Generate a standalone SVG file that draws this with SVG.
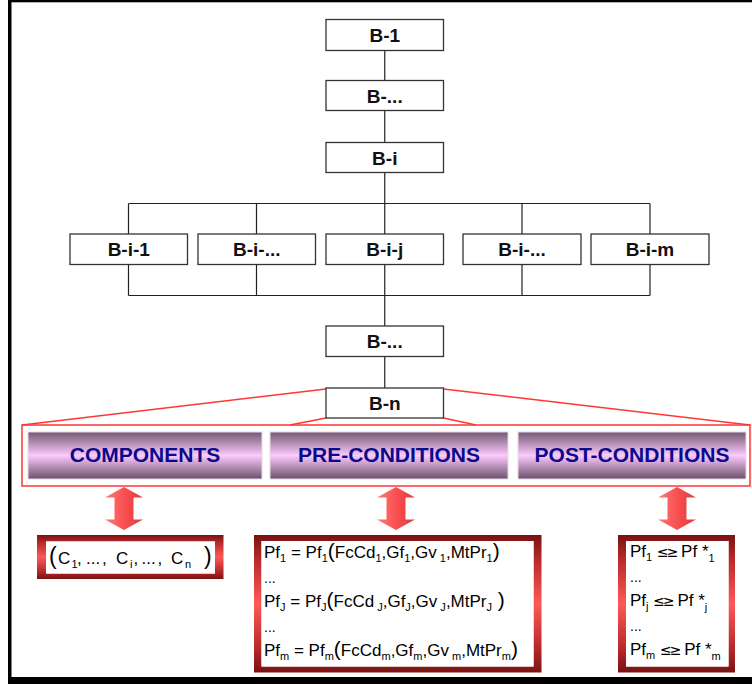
<svg xmlns="http://www.w3.org/2000/svg" width="752" height="684" viewBox="0 0 752 684">
<style>
.box{fill:#fff;stroke:#333;stroke-width:1.3}
.lbl{font-family:"Liberation Sans",Arial,sans-serif;font-weight:bold;font-size:19px;text-anchor:middle;fill:#111}
.conn{stroke:#222;stroke-width:1.2;fill:none}
.red{stroke:#ff3535;stroke-width:1.5;fill:none}
.bar{fill:url(#barg);stroke:#e4dce4;stroke-width:1}
.bt{font-family:"Liberation Sans",Arial,sans-serif;font-weight:bold;font-size:21px;fill:#0a0a8c;text-anchor:middle}
.eq{font-family:"Liberation Sans",Arial,sans-serif;font-size:17px;fill:#000}
.s{font-size:11px}
.pr{font-size:21px}
.sym{font-family:"DejaVu Sans",sans-serif;font-size:14px}
.dots{font-family:"Liberation Sans",Arial,sans-serif;font-size:14px;fill:#000}
.frame{fill:url(#frg);fill-rule:evenodd}
.arr{fill:url(#arg)}
</style>
<defs>
<linearGradient id="barg" x1="0" y1="0" x2="0" y2="1">
<stop offset="0" stop-color="#735873"/>
<stop offset="0.5" stop-color="#fccafc"/>
<stop offset="1" stop-color="#6c506c"/>
</linearGradient>
<linearGradient id="frg" x1="0" y1="0" x2="0" y2="1">
<stop offset="0" stop-color="#7a1212"/>
<stop offset="0.18" stop-color="#b82a2a"/>
<stop offset="0.5" stop-color="#ff5858"/>
<stop offset="0.82" stop-color="#b82a2a"/>
<stop offset="1" stop-color="#7a1212"/>
</linearGradient>
<linearGradient id="arg" x1="0" y1="0" x2="1" y2="0">
<stop offset="0" stop-color="#ff7a7a"/>
<stop offset="0.5" stop-color="#f85050"/>
<stop offset="1" stop-color="#e23a3a"/>
</linearGradient>
<path id="dbl" d="M0,487 L19,497.5 L9.5,497.5 L9.5,519.5 L19,519.5 L0,530 L-19,519.5 L-9.5,519.5 L-9.5,497.5 L-19,497.5 Z"/>
</defs>

<g id="border" fill="#000">
<rect x="8" y="0" width="3.5" height="684"/>
<rect x="8" y="0" width="744" height="2.3"/>
<rect x="8" y="677" width="744" height="7"/>
</g>

<g id="connectors">
<path class="conn" d="M384.75,50.5V80.5M384.75,110.5V142.5M384.75,172.5V234M128.5,203.5H650M128.5,203.5V234M256.5,203.5V234M522,203.5V234M650,203.5V234M128.5,264.5V295.5M256.5,264.5V295.5M384.75,264.5V326M522,264.5V295.5M650,264.5V295.5M128.5,295.5H650M384.75,356.5V388"/>
<path class="red" d="M326,389L22,425M443.5,389L750,425M326,418L290,425M443.5,418L476,425"/>
</g>

<g id="B-1"><rect class="box" x="326" y="19.5" width="117.5" height="31"/><text class="lbl" x="384.75" y="42">B-1</text></g>
<g id="B-dots1"><rect class="box" x="326" y="80.5" width="117.5" height="30"/><text class="lbl" x="384.75" y="102.5">B-...</text></g>
<g id="B-i"><rect class="box" x="326" y="142.5" width="117.5" height="30"/><text class="lbl" x="384.75" y="164.5">B-i</text></g>
<g id="B-i-1"><rect class="box" x="70" y="234" width="117.5" height="30.5"/><text class="lbl" x="128.75" y="256">B-i-1</text></g>
<g id="B-i-dots1"><rect class="box" x="198" y="234" width="117.5" height="30.5"/><text class="lbl" x="256.75" y="256">B-i-...</text></g>
<g id="B-i-j"><rect class="box" x="326" y="234" width="117.5" height="30.5"/><text class="lbl" x="384.75" y="256">B-i-j</text></g>
<g id="B-i-dots2"><rect class="box" x="463" y="234" width="118" height="30.5"/><text class="lbl" x="522" y="256">B-i-...</text></g>
<g id="B-i-m"><rect class="box" x="591" y="234" width="118" height="30.5"/><text class="lbl" x="650" y="256">B-i-m</text></g>
<g id="B-dots2"><rect class="box" x="326" y="326" width="117.5" height="30.5"/><text class="lbl" x="384.75" y="348">B-...</text></g>
<g id="B-n"><rect class="box" x="326" y="388" width="117.5" height="30"/><text class="lbl" x="384.75" y="410">B-n</text></g>

<g id="group-box"><rect class="red" x="22" y="425" width="728" height="61"/></g>
<g id="components"><rect class="bar" x="28" y="432" width="234" height="47"/><text class="bt" x="145" y="462">COMPONENTS</text></g>
<g id="pre-conditions"><rect class="bar" x="270" y="432" width="238" height="47"/><text class="bt" x="389" y="462">PRE-CONDITIONS</text></g>
<g id="post-conditions"><rect class="bar" x="518" y="432" width="228" height="47"/><text class="bt" x="632" y="462">POST-CONDITIONS</text></g>

<g id="arrows">
<use href="#dbl" class="arr" x="124"/>
<use href="#dbl" class="arr" x="396"/>
<use href="#dbl" class="arr" x="677"/>
</g>

<g id="components-box">
<path class="frame" d="M37,535H223.5V579H37Z M46,541.5V573.5H215V541.5Z"/>
<rect x="46" y="541.5" width="169" height="32" fill="#fff"/>
<text class="eq" y="563.5" font-size="18"><tspan x="49" font-size="23">(</tspan><tspan x="58">C</tspan><tspan class="s" x="71.5" dy="4">1</tspan><tspan x="77" dy="-4">,</tspan><tspan x="86">...</tspan><tspan x="102">,</tspan><tspan x="116">C</tspan><tspan class="s" x="130" dy="4">i</tspan><tspan x="133.5" dy="-4">,</tspan><tspan x="141.5">...</tspan><tspan x="157.5">,</tspan><tspan x="171">C</tspan><tspan class="s" x="185" dy="4">n</tspan><tspan x="204" dy="-4" font-size="23">)</tspan></text>
</g>

<g id="pre-box">
<path class="frame" d="M254,535H541.5V672.5H254Z M261.5,541V666.5H533.5V541Z"/>
<rect x="261.5" y="541" width="272" height="125.5" fill="#fff"/>
<text class="eq" x="264" y="558">Pf<tspan class="s" dy="4">1</tspan><tspan dy="-4"> = Pf</tspan><tspan class="s" dy="4">1</tspan><tspan class="pr" dy="-4">(</tspan><tspan>FcCd</tspan><tspan class="s" dy="4">1</tspan><tspan dy="-4">,Gf</tspan><tspan class="s" dy="4">1</tspan><tspan dy="-4">,Gv</tspan><tspan class="s" dy="4"> 1</tspan><tspan dy="-4">,MtPr</tspan><tspan class="s" dy="4">1</tspan><tspan class="pr" dy="-4">)</tspan></text>
<text class="dots" x="264" y="583">...</text>
<text class="eq" x="264" y="607">Pf<tspan class="s" dy="4">J</tspan><tspan dy="-4"> = Pf</tspan><tspan class="s" dy="4">J</tspan><tspan class="pr" dy="-4">(</tspan><tspan>FcCd</tspan><tspan class="s" dy="4"> J</tspan><tspan dy="-4">,Gf</tspan><tspan class="s" dy="4">J</tspan><tspan dy="-4">,Gv</tspan><tspan class="s" dy="4"> J</tspan><tspan dy="-4">,MtPr</tspan><tspan class="s" dy="4">J</tspan><tspan class="pr" dy="-4"> )</tspan></text>
<text class="dots" x="264" y="632">...</text>
<text class="eq" x="264" y="656">Pf<tspan class="s" dy="4">m</tspan><tspan dy="-4"> = Pf</tspan><tspan class="s" dy="4">m</tspan><tspan class="pr" dy="-4">(</tspan><tspan>FcCd</tspan><tspan class="s" dy="4">m</tspan><tspan dy="-4">,Gf</tspan><tspan class="s" dy="4">m</tspan><tspan dy="-4">,Gv</tspan><tspan class="s" dy="4"> m</tspan><tspan dy="-4">,MtPr</tspan><tspan class="s" dy="4">m</tspan><tspan class="pr" dy="-4">)</tspan></text>
</g>

<g id="post-box">
<path class="frame" d="M618,535H735V672.5H618Z M626,541V666.5H728.5V541Z"/>
<rect x="626" y="541" width="102.5" height="125.5" fill="#fff"/>
<text class="eq" x="630" y="557">Pf<tspan class="s" dy="4">1</tspan><tspan dy="-4"> </tspan><tspan class="sym" letter-spacing="-2">≤≥</tspan><tspan> Pf *</tspan><tspan class="s" dy="5">1</tspan></text>
<text class="dots" x="630" y="582">...</text>
<text class="eq" x="630" y="606">Pf<tspan class="s" dy="4">j</tspan><tspan dy="-4"> </tspan><tspan class="sym" letter-spacing="-2">≤≥</tspan><tspan> Pf *</tspan><tspan class="s" dy="5">j</tspan></text>
<text class="dots" x="630" y="631">...</text>
<text class="eq" x="630" y="655">Pf<tspan class="s" dy="4">m</tspan><tspan dy="-4"> </tspan><tspan class="sym" letter-spacing="-2">≤≥</tspan><tspan> Pf *</tspan><tspan class="s" dy="5">m</tspan></text>
</g>
</svg>
